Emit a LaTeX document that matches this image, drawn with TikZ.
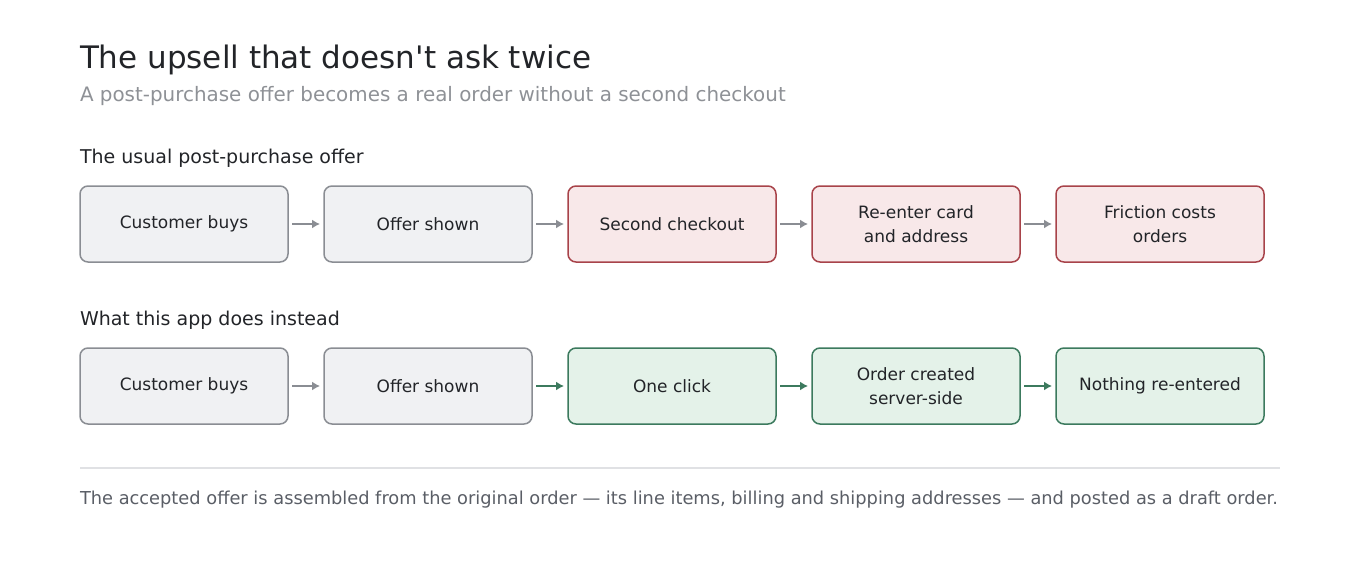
\documentclass[tikz,border=0pt]{standalone}
\usepackage{fontspec}
\newfontfamily\dejavu{DejaVu Sans}
\usetikzlibrary{positioning,arrows.meta}
\definecolor{ink}{HTML}{222428}
\definecolor{subink}{HTML}{8E9196}
\definecolor{noteink}{HTML}{5A5E66}
\definecolor{greyfill}{HTML}{F0F1F3}
\definecolor{greyline}{HTML}{8A8D93}
\definecolor{redfill}{HTML}{F8E8E9}
\definecolor{redline}{HTML}{A8434A}
\definecolor{greenfill}{HTML}{E4F2E9}
\definecolor{greenline}{HTML}{3C7A5E}
\definecolor{ruleline}{HTML}{E0E1E4}

\begin{document}
\begin{tikzpicture}[x=1pt,y=-1pt]
\useasboundingbox (0,0) rectangle (1360,560);
\tikzstyle{every node} = [font=\dejavu\fontsize{17}{24}\selectfont, text=ink, inner sep=0pt, outer sep=0pt]
\tikzstyle{stepbox} = [draw, rounded corners=8pt, line width=1.5pt, minimum width=208pt, minimum height=76pt, align=center]
\tikzstyle{plain} = [stepbox, fill=greyfill, draw=greyline]
\tikzstyle{bad} = [stepbox, fill=redfill, draw=redline]
\tikzstyle{good} = [stepbox, fill=greenfill, draw=greenline]
\tikzstyle{link} = [-{Latex[length=8pt,width=9pt]}, line width=1.5pt, shorten >=4pt, shorten <=4pt, greyline]
\tikzstyle{golink} = [link, greenline]
\tikzstyle{heading} = [anchor=base west, font=\dejavu\fontsize{19}{22}\selectfont]

% title
\node[anchor=base west, font=\dejavu\fontsize{31}{36}\selectfont] (title) at (80,68) {The upsell that doesn't ask twice};
\node[anchor=base west, font=\dejavu\fontsize{19.9}{24}\selectfont, text=subink] (subtitle) at (80,101) {A post-purchase offer becomes a real order without a second checkout};

% usual flow
\node[heading] (usual) at (80,163) {The usual post-purchase offer};
\node[plain] (u1) at (184,224) {Customer buys};
\node[plain, right=36pt of u1] (u2) {Offer shown};
\node[bad, right=36pt of u2] (u3) {Second checkout};
\node[bad, right=36pt of u3] (u4) {Re-enter card\\and address};
\node[bad, right=36pt of u4] (u5) {Friction costs\\orders};
\draw[link] (u1) -- (u2);
\draw[link] (u2) -- (u3);
\draw[link] (u3) -- (u4);
\draw[link] (u4) -- (u5);

% this app
\node[heading] (app) at (80,325) {What this app does instead};
\node[plain] (a1) at (184,386) {Customer buys};
\node[plain, right=36pt of a1] (a2) {Offer shown};
\node[good, right=36pt of a2] (a3) {One click};
\node[good, right=36pt of a3] (a4) {Order created\\server-side};
\node[good, right=36pt of a4] (a5) {Nothing re-entered};
\draw[link] (a1) -- (a2);
\draw[golink] (a2) -- (a3);
\draw[golink] (a3) -- (a4);
\draw[golink] (a4) -- (a5);

% footnote
\draw[ruleline, line width=1.5pt] (80,468) -- (1280,468);
\node[anchor=base west, font=\dejavu\fontsize{17.8}{22}\selectfont, text=noteink] (note) at (80,504) {The accepted offer is assembled from the original order — its line items, billing and shipping addresses — and posted as a draft order.};
\end{tikzpicture}
\end{document}
